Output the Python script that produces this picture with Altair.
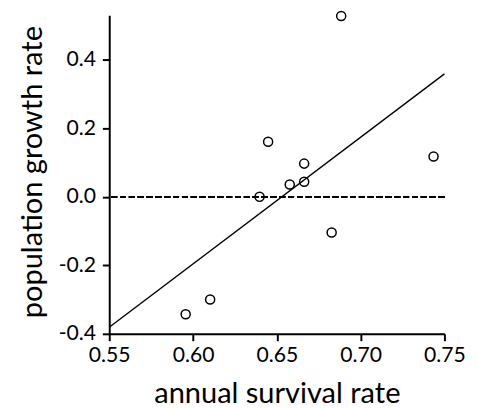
import altair as alt
import pandas as pd

# Observed points
survival = [0.5956, 0.6102, 0.6397, 0.6448, 0.6577, 0.6663, 0.6663, 0.6827, 0.6884, 0.7435]
growth = [-0.343, -0.300, 0.000, 0.161, 0.036, 0.044, 0.097, -0.104, 0.528, 0.118]

# Fitted regression line endpoints
fit_x = [0.55, 0.75]
fit_y = [-0.381, 0.359]

x_ticks = [0.55, 0.60, 0.65, 0.70, 0.75]
y_ticks = [-0.4, -0.3, -0.2, -0.1, 0.0, 0.1, 0.2, 0.3, 0.4, 0.5]

pts = pd.DataFrame({"survival": survival, "growth": growth})
fit = pd.DataFrame({"survival": fit_x, "growth": fit_y})

FONT = "Lato"

xscale = alt.Scale(domain=[0.55, 0.75], nice=False, zero=False)
yscale = alt.Scale(domain=[-0.4, 0.53], nice=False, zero=False)

xaxis = alt.Axis(
    values=x_ticks, format=".2f", title="annual survival rate",
    titleBaseline="alphabetic", titleY=70, labelPadding=4,
)
yaxis = alt.Axis(
    values=y_ticks,
    labelExpr="abs(round(datum.value*10)) % 2 == 0 ? (datum.value < -0.001 ? '-' : '') + format(abs(datum.value), '.1f') : ''",
    title="population growth rate",
    titleBaseline="alphabetic", titleX=-69, titleY=159, labelPadding=7,
)

points = alt.Chart(pts).mark_point(
    shape="circle", filled=False, size=85, stroke="black", strokeWidth=1.5, opacity=1
).encode(
    x=alt.X("survival:Q", scale=xscale, axis=xaxis),
    y=alt.Y("growth:Q", scale=yscale, axis=yaxis),
)

line = alt.Chart(fit).mark_line(color="black", strokeWidth=1.4).encode(
    x=alt.X("survival:Q", scale=xscale, axis=xaxis),
    y=alt.Y("growth:Q", scale=yscale, axis=yaxis),
)

zero = alt.Chart(pts).mark_rule(color="black", strokeWidth=1.7, strokeDash=[6, 3]).encode(
    y=alt.datum(0, scale=yscale),
)

chart = alt.layer(zero, line, points).properties(
    width=341, height=324,
    autosize=alt.AutoSizeParams(type="none"),
    padding={"left": 103, "top": 4, "right": 26, "bottom": 72},
).configure_view(stroke=None).configure_axis(
    grid=False, domainColor="black", domainWidth=2, tickColor="black", tickWidth=2,
    tickSize=7, labelColor="black", labelFont=FONT, labelFontSize=21.5,
    titleFont=FONT, titleFontSize=29.5, titleFontWeight="normal", titleColor="black",
    labelFlush=False, labelOverlap=False,
)

chart.save("out.html", embed_options={"renderer": "svg", "actions": False})
